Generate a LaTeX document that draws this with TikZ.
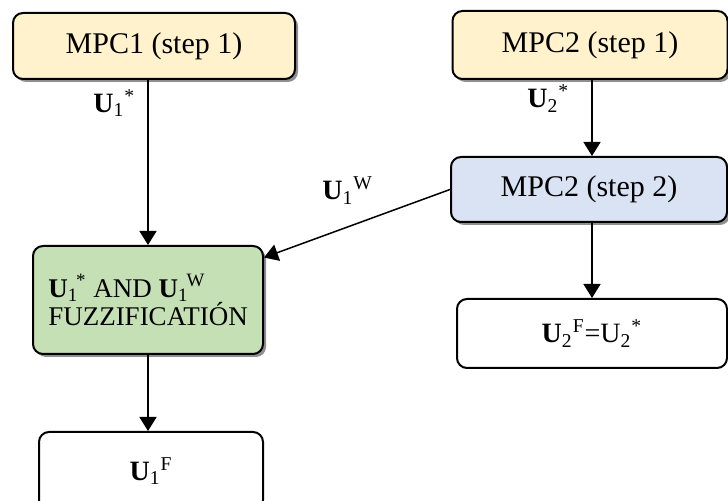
\documentclass[tikz,border=0pt]{standalone}
\usepackage{fontspec}
\setmainfont{Liberation Serif}
\usepackage{tikz}
\usetikzlibrary{arrows.meta,shadows}

\definecolor{stepyellow}{HTML}{FFF2CC}
\definecolor{stepblue}{HTML}{DAE3F3}
\definecolor{stepgreen}{HTML}{C5E0B4}

\begin{document}
\begin{tikzpicture}
[x=0.5pt,y=-0.5pt]
\tikzset{
	block/.style = {draw, rounded corners=5pt, line width=1pt, inner sep=0, align=center, font=\fontsize{15}{18}\selectfont},
	shaded/.style = {block, drop shadow={shadow xshift=1.5pt, shadow yshift=-1.5pt, fill=black!55, opacity=0.8}},
	mpcstep/.style = {shaded, fill=stepyellow},
	mpcsecond/.style = {shaded, fill=stepblue},
	fuzzy/.style = {shaded, fill=stepgreen, align=left, font=\fontsize{13.5}{14}\selectfont},
	result/.style = {block, fill=white, font=\fontsize{14}{16}\selectfont},
	signal/.style = {inner sep=0, font=\fontsize{14}{16}\selectfont}
}

\useasboundingbox (0,0) rectangle (728,501);

\node(mpc1) [mpcstep, minimum width=141pt, minimum height=33pt] at (154,46) {MPC1 (step 1)};
\node(mpc2a) [mpcstep, minimum width=137.5pt, minimum height=34pt] at (590,45) {MPC2 (step 1)};
\node(mpc2b) [mpcsecond, minimum width=138pt, minimum height=32.5pt] at (589,189.5) {MPC2 (step 2)};
\node(fuzz) [fuzzy, minimum width=115pt, minimum height=54pt] at (148,300)
	{\textbf{U}\textsubscript{1}\kern-1pt\textsuperscript{*} AND \textbf{U}\textsubscript{1}\kern-1pt\textsuperscript{W}\\FUZZIFICATIÓN};
\node(u1f) [result, minimum width=112pt, minimum height=39pt] at (151,471)
	{\textbf{U}\textsubscript{1}\textsuperscript{F}};
\node(u2f) [result, minimum width=135pt, minimum height=34.5pt] at (592,333.5)
	{\textbf{U}\textsubscript{2}\textsuperscript{F}=U\textsubscript{2}\textsuperscript{*}};

\path[-{Triangle[length=7pt,width=8.5pt]}, line width=0.75pt, every node/.style={signal}]
	(mpc1.south -| fuzz.north) edge node [pos=0.14, left=6pt] {\textbf{U}\textsubscript{1}\textsuperscript{*}} (fuzz.north)
	(mpc2a.south -| u2f.north) edge node [pos=0.24, left=11pt] {\textbf{U}\textsubscript{2}\textsuperscript{*}} (mpc2b.north -| u2f.north)
	(mpc2b.west) edge node [pos=0.55, above=11pt] {\textbf{U}\textsubscript{1}\textsuperscript{W}} (fuzz)
	(fuzz.south) edge (fuzz.south |- u1f.north)
	(mpc2b.south -| u2f.north) edge (u2f.north)
	;

\end{tikzpicture}
\end{document}
